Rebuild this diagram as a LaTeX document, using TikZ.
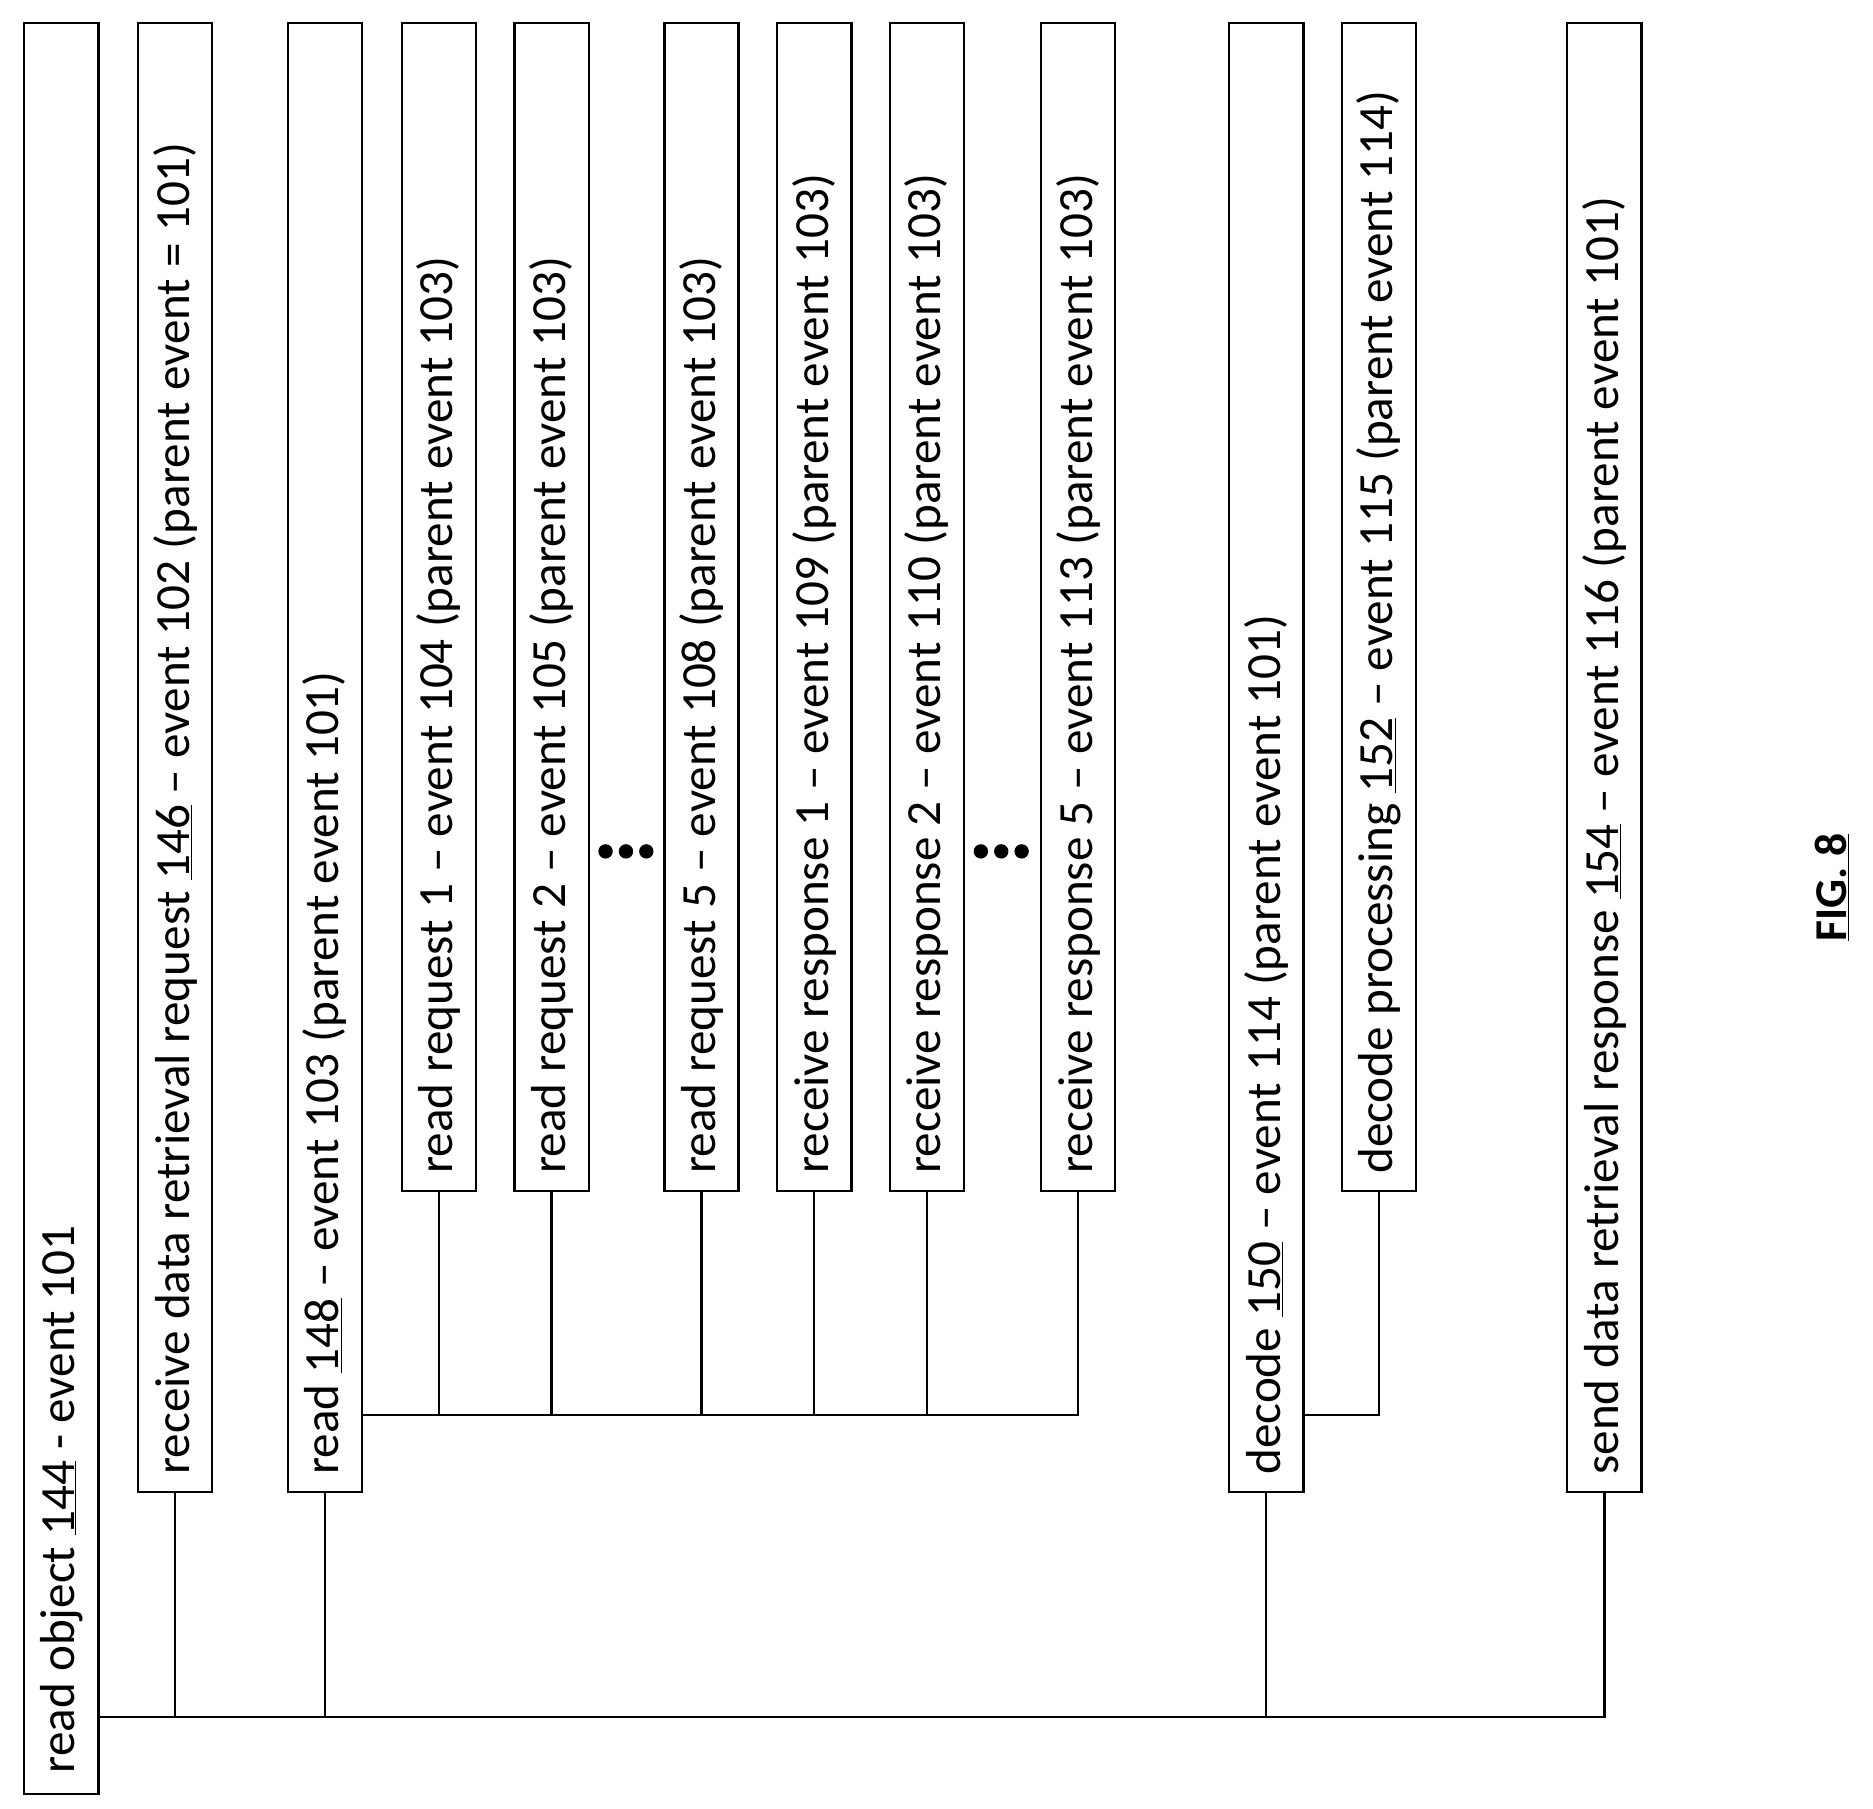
\documentclass[tikz,border=0pt]{standalone}
\usepackage{fontspec}
\setmainfont{Carlito}
\tikzset{
  box/.style={draw, line width=2pt, minimum width=62pt, anchor=north west, inner sep=0pt},
  lbl/.style={rotate=90, anchor=west, inner sep=0pt, font=\fontsize{41}{41}\selectfont},
  wire/.style={line width=2pt}
}
\begin{document}
\begin{tikzpicture}[x=1pt,y=-1pt]
		\useasboundingbox (0,0) rectangle (1562,1508);
		% boxes
		\node[box, minimum height=1477pt] (n144) at (19,18) {};
		\node[box, minimum height=1225pt] (n146) at (114,18) {};
		\node[box, minimum height=1225pt] (n148) at (239,18) {};
		\node[box, minimum height=974pt] (n104) at (334,18) {};
		\node[box, minimum height=974pt] (n105) at (428,18) {};
		\node[box, minimum height=974pt] (n108) at (553,18) {};
		\node[box, minimum height=974pt] (n109) at (647,18) {};
		\node[box, minimum height=974pt] (n110) at (741,18) {};
		\node[box, minimum height=974pt] (n113) at (867,18) {};
		\node[box, minimum height=1225pt] (n150) at (1024,18) {};
		\node[box, minimum height=974pt] (n152) at (1118,18) {};
		\node[box, minimum height=1225pt] (n154) at (1306,18) {};
		% labels
		\node[lbl] at ([yshift=18pt]n144.south) {read object \underline{144} - event 101};
		\node[lbl] at ([yshift=15pt]n146.south) {receive data retrieval request \underline{146} -- event 102 (parent event = 101)};
		\node[lbl] at ([yshift=15pt]n148.south) {read \underline{148} -- event 103 (parent event 101)};
		\node[lbl] at ([yshift=15pt]n104.south) {read request 1 -- event 104 (parent event 103)};
		\node[lbl] at ([yshift=15pt]n105.south) {read request 2 -- event 105 (parent event 103)};
		\node[lbl] at ([yshift=15pt]n108.south) {read request 5 -- event 108 (parent event 103)};
		\node[lbl] at ([yshift=15pt]n109.south) {receive response 1 -- event 109 (parent event 103)};
		\node[lbl] at ([yshift=15pt]n110.south) {receive response 2 -- event 110 (parent event 103)};
		\node[lbl] at ([yshift=15pt]n113.south) {receive response 5 -- event 113 (parent event 103)};
		\node[lbl] at ([yshift=15pt]n150.south) {decode \underline{150} -- event 114 (parent event 101)};
		\node[lbl] at ([yshift=15pt]n152.south) {decode processing \underline{152} -- event 115 (parent event 114)};
		\node[lbl] at ([yshift=15pt]n154.south) {send data retrieval response \underline{154} -- event 116 (parent event 101)};
		\node[rotate=90, font=\fontsize{38}{38}\selectfont\bfseries] (fig) at (1528,740) {\underline{FIG. 8}};
		% dots
		\foreach \x in {505,522,539} {
			\fill (\x,710) circle (6);
			\fill (\x+313,710) circle (6);
		}
		% connectors
		\coordinate (busL) at (82,1432);
		\coordinate (subL) at (302,1180);
		\draw[wire] (busL) -| (n154.south);
		\foreach \n in {n146,n148,n150}
			\draw[wire] (\n.south) -- (\n.south |- busL);
		\draw[wire] (subL) -| (n113.south);
		\foreach \n in {n104,n105,n108,n109,n110}
			\draw[wire] (\n.south) -- (\n.south |- subL);
		\draw[wire] (n150.east |- subL) -| (n152.south);
	\end{tikzpicture}
\end{document}
